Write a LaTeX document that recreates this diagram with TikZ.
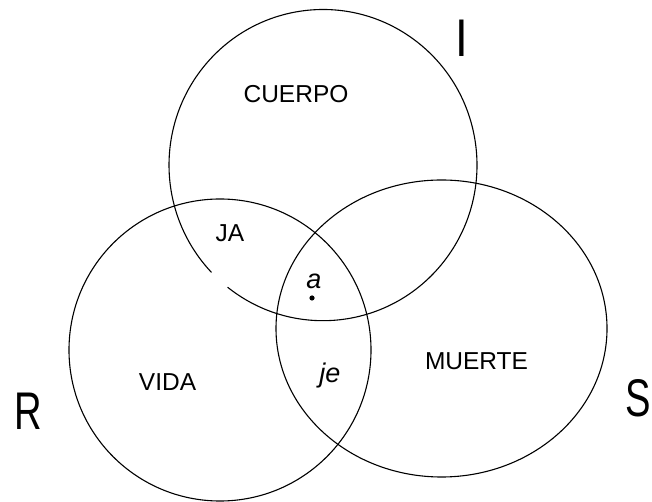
\documentclass[tikz,border=0pt]{standalone}
\usepackage{fontspec}
\setmainfont{Liberation Sans}
\begin{document}
\begin{tikzpicture}[x=1pt,y=1pt,
  ring/.style={line width=1.1pt, black},
  small/.style={inner sep=0pt, font=\fontsize{24.5}{24.5}\selectfont},
  ital/.style={inner sep=0pt, font=\fontsize{27}{27}\selectfont\itshape},
  big/.style={inner sep=0pt, xscale=0.72, font=\fontsize{53}{53}\selectfont}]
\useasboundingbox (0,0) rectangle (652,502);
\fill[white] (0,0) rectangle (652,502);
% centres
\coordinate (cI) at (323,336.9);
\coordinate (cR) at (220,152);
\coordinate (cS) at (441.5,173.5);
% ring I with a small gap at its lower left
\draw[ring] (cI) ++(231.7:154 and 155.6)
  arc[start angle=231.7, end angle=583.6, x radius=154, y radius=155.6];
% ring R
\draw[ring] (cR) circle[radius=151];
% ring S
\draw[ring] (cS) ellipse[x radius=165.5, y radius=148.5];
% labels
\node[small] (cuerpo) at (296,408) {CUERPO};
\node[small] (ja) at (230,268.5) {JA};
\node[small] (vida) at (167.5,119.5) {VIDA};
\node[small] (muerte) at (476.5,140.5) {MUERTE};
\node[ital] (a) at (314,220.5) {a};
\fill (312,204) circle[radius=2.6];
\node[ital, anchor=base] (je) at (330,119) {je};
\node[big, anchor=base] (R) at (28.5,72) {R};
\node[big, anchor=base] (S) at (638.5,85) {S};
\node[big, anchor=base, xscale=1.2] (I) at (462,445) {I};
\end{tikzpicture}
\end{document}
